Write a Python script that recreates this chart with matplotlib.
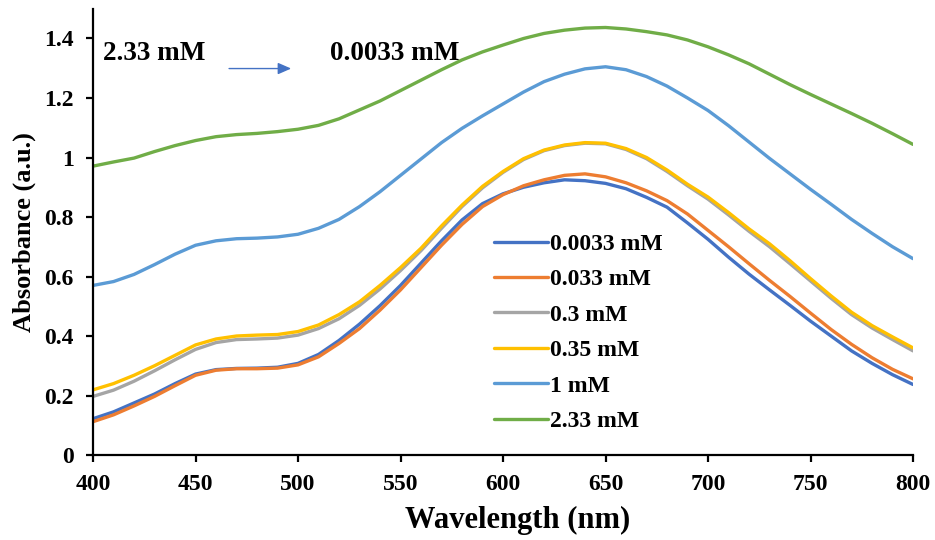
import matplotlib
matplotlib.use("Agg")
import matplotlib.pyplot as plt
from matplotlib.ticker import FuncFormatter

wavelength = list(range(400, 801, 10))

c_0_0033 = [0.122, 0.145, 0.175, 0.205, 0.240, 0.272, 0.287, 0.291, 0.292, 0.295,
            0.308, 0.338, 0.385, 0.440, 0.502, 0.570, 0.645, 0.720, 0.790, 0.845,
            0.878, 0.900, 0.915, 0.925, 0.922, 0.913, 0.895, 0.866, 0.833, 0.780,
            0.725, 0.665, 0.608, 0.555, 0.503, 0.450, 0.400, 0.350, 0.308, 0.270,
            0.237]
c_0_033 = [0.112, 0.135, 0.165, 0.197, 0.233, 0.268, 0.285, 0.290, 0.290, 0.292,
           0.303, 0.330, 0.375, 0.425, 0.487, 0.555, 0.630, 0.705, 0.775, 0.835,
           0.875, 0.905, 0.925, 0.940, 0.945, 0.935, 0.915, 0.888, 0.855, 0.810,
           0.755, 0.700, 0.643, 0.587, 0.533, 0.477, 0.422, 0.372, 0.327, 0.288,
           0.256]
c_0_3 = [0.197, 0.218, 0.248, 0.283, 0.320, 0.355, 0.378, 0.388, 0.390, 0.393,
         0.403, 0.425, 0.458, 0.503, 0.558, 0.620, 0.687, 0.762, 0.835, 0.898,
         0.950, 0.993, 1.023, 1.040, 1.048, 1.046, 1.027, 0.996, 0.953, 0.905,
         0.860, 0.807, 0.752, 0.700, 0.643, 0.585, 0.527, 0.472, 0.427, 0.388,
         0.350]
c_0_35 = [0.219, 0.240, 0.268, 0.300, 0.335, 0.370, 0.390, 0.400, 0.403, 0.405,
          0.415, 0.437, 0.472, 0.515, 0.570, 0.630, 0.695, 0.770, 0.840, 0.903,
          0.953, 0.996, 1.025, 1.042, 1.050, 1.048, 1.030, 1.000, 0.958, 0.910,
          0.867, 0.815, 0.760, 0.710, 0.653, 0.593, 0.535, 0.480, 0.435, 0.397,
          0.360]
c_1 = [0.570, 0.583, 0.607, 0.640, 0.675, 0.705, 0.720, 0.727, 0.729, 0.733,
       0.742, 0.762, 0.792, 0.835, 0.885, 0.940, 0.995, 1.050, 1.098, 1.140,
       1.180, 1.220, 1.255, 1.280, 1.298, 1.305, 1.295, 1.272, 1.240, 1.200,
       1.158, 1.107, 1.052, 0.997, 0.945, 0.893, 0.843, 0.792, 0.745, 0.700,
       0.660]
c_2_33 = [0.971, 0.985, 0.998, 1.020, 1.040, 1.057, 1.070, 1.077, 1.081, 1.087,
          1.095, 1.108, 1.130, 1.160, 1.190, 1.225, 1.260, 1.295, 1.328, 1.355,
          1.378, 1.400, 1.417, 1.428, 1.435, 1.437, 1.432, 1.423, 1.412, 1.395,
          1.372, 1.345, 1.315, 1.280, 1.245, 1.212, 1.180, 1.148, 1.115, 1.080,
          1.044]

series_labels = ["0.0033 mM", "0.033 mM", "0.3 mM", "0.35 mM", "1 mM", "2.33 mM"]
series_values = [c_0_0033, c_0_033, c_0_3, c_0_35, c_1, c_2_33]
series_colors = ["#4472C4", "#ED7D31", "#A5A5A5", "#FFC000", "#5B9BD5", "#70AD47"]

x_ticks = list(range(400, 801, 50))
y_ticks = [0, 0.2, 0.4, 0.6, 0.8, 1.0, 1.2, 1.4]

plt.rcParams['font.family'] = ['Liberation Serif', 'DejaVu Serif']
plt.rcParams['font.weight'] = 'bold'

fig = plt.figure(figsize=(9.35, 5.4), dpi=100)
ax = fig.add_axes([0.0995, 0.1574, 0.877, 0.8264])

for vals, lab, col in zip(series_values, series_labels, series_colors):
    ax.plot(wavelength, vals, color=col, lw=2.4, label=lab, solid_capstyle='round')

ax.set_xlim(400, 800)
ax.set_ylim(0, 1.5)
ax.set_xticks(x_ticks)
ax.set_yticks(y_ticks)
ax.yaxis.set_major_formatter(FuncFormatter(lambda v, p: f"{v:g}"))
for s in ['top', 'right']:
    ax.spines[s].set_visible(False)
for s in ['left', 'bottom']:
    ax.spines[s].set_linewidth(1.6)
    ax.spines[s].set_color('black')
ax.tick_params(direction='out', length=5, width=1.6, labelsize=17)
ax.tick_params(axis='x', pad=9)
ax.tick_params(axis='y', pad=9)
for t in ax.get_xticklabels() + ax.get_yticklabels():
    t.set_fontweight('bold')

ax.set_xlabel("Wavelength (nm)", fontsize=22, fontweight='bold', va='center')
ax.xaxis.set_label_coords(0.518, -0.146)
ax.set_ylabel("Absorbance (a.u.)", fontsize=19, fontweight='bold', labelpad=6)

leg = ax.legend(loc='upper left', bbox_to_anchor=(0.478, 0.518), frameon=False,
                prop={'weight': 'bold', 'size': 17}, handlelength=2.25,
                handletextpad=0.1, labelspacing=0.59, borderaxespad=0)

ax.text(405, 1.348, "2.33 mM", fontsize=19.5, fontweight='bold', va='center', ha='left')
ax.text(515.5, 1.348, "0.0033 mM", fontsize=19.5, fontweight='bold', va='center', ha='left')
ax.annotate("", xy=(498, 1.299), xytext=(465, 1.299),
            arrowprops=dict(arrowstyle='-|>,head_length=0.8,head_width=0.35',
                            color='#4472C4', lw=1.0))

fig.savefig("out.png", dpi=100)
